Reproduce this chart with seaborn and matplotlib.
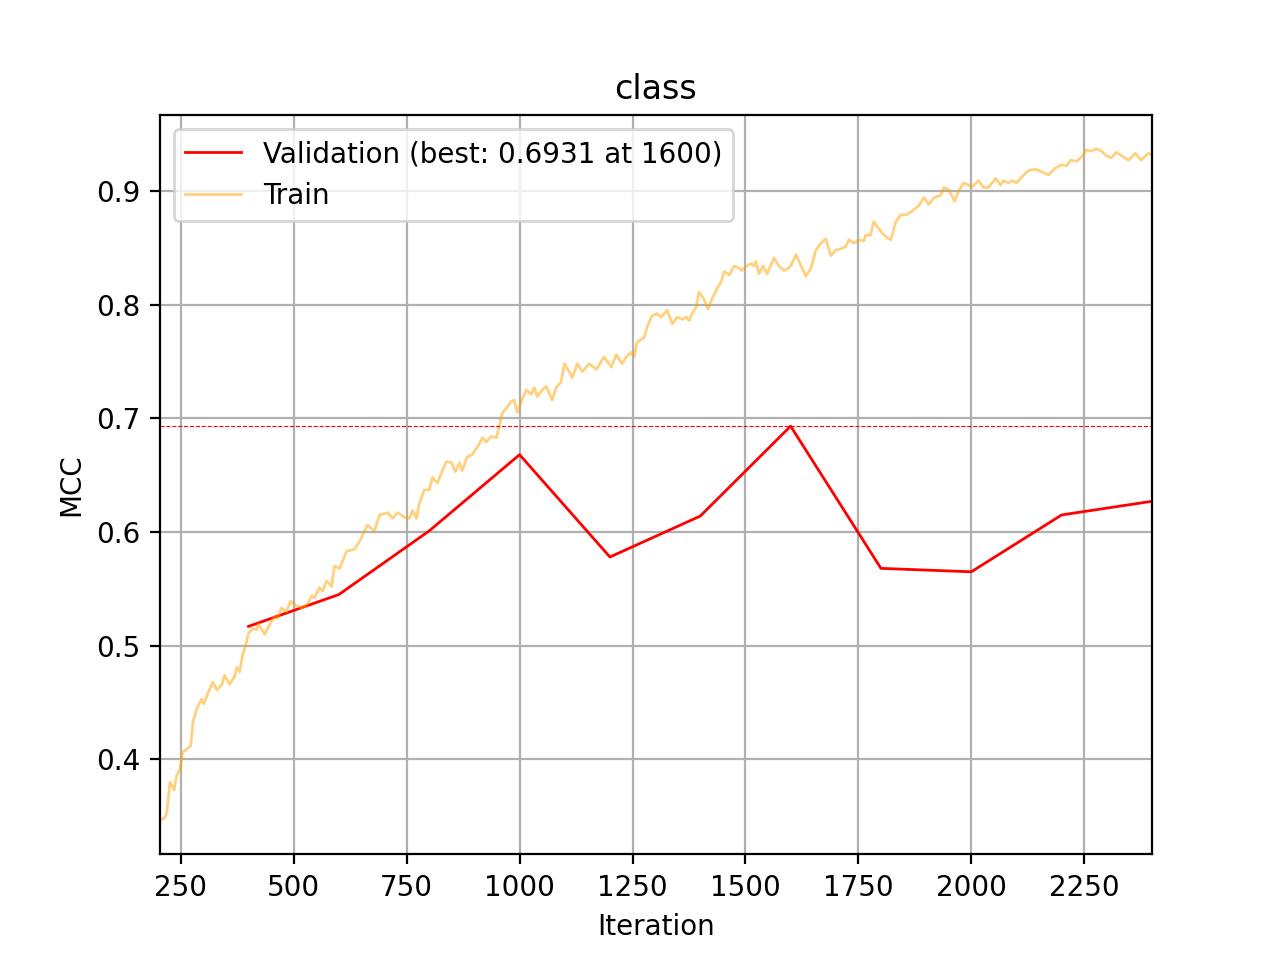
import matplotlib
matplotlib.use("Agg")
import matplotlib.pyplot as plt
import seaborn as sns

# --- validation MCC (evaluated every 200 iterations) ---
val_iter = [400, 600, 800, 1000, 1200, 1400, 1600, 1800, 2000, 2200, 2400]
val_mcc = [0.517, 0.545, 0.601, 0.668, 0.578, 0.614, 0.6931, 0.568, 0.565, 0.615, 0.627]

# --- train MCC ---
train_iter = [
    204, 215, 219, 226, 235, 241, 248, 254, 263, 272, 277, 285, 296, 301, 310,
    321, 330, 341, 347, 358, 369, 374, 380, 387, 394, 400, 409, 418, 422, 436,
    447, 458, 464, 473, 484, 493, 506, 520, 531, 540, 546, 557, 564, 573, 584,
    590, 602, 617, 635, 646, 663, 679, 690, 708, 719, 730, 734, 745, 756, 763,
    772, 778, 789, 800, 807, 818, 827, 838, 849, 858, 867, 873, 884, 895, 907,
    918, 926, 937, 949, 955, 962, 973, 982, 988, 995, 1004, 1015, 1026, 1033, 1039,
    1050, 1059, 1072, 1081, 1092, 1099, 1110, 1117, 1128, 1139, 1154, 1170, 1187, 1203, 1214,
    1227, 1236, 1247, 1254, 1260, 1276, 1282, 1293, 1304, 1313, 1327, 1338, 1349, 1360, 1369,
    1375, 1382, 1391, 1397, 1408, 1417, 1426, 1437, 1446, 1453, 1464, 1475, 1486, 1492, 1503,
    1512, 1519, 1523, 1530, 1539, 1548, 1563, 1574, 1585, 1596, 1603, 1612, 1623, 1634, 1645,
    1656, 1667, 1678, 1689, 1700, 1711, 1722, 1729, 1740, 1751, 1762, 1766, 1777, 1784, 1795,
    1802, 1813, 1822, 1833, 1844, 1857, 1868, 1884, 1895, 1906, 1917, 1932, 1939, 1950, 1963,
    1972, 1983, 1994, 2001, 2016, 2027, 2038, 2054, 2065, 2071, 2082, 2091, 2100, 2111, 2127,
    2142, 2155, 2171, 2186, 2200, 2211, 2220, 2233, 2244, 2255, 2266, 2277, 2288, 2299, 2310,
    2321, 2332, 2348, 2363, 2376, 2392, 2400,
]
train_mcc = [
    0.346, 0.349, 0.353, 0.380, 0.373, 0.386, 0.391, 0.406, 0.409, 0.412, 0.433, 0.444, 0.453, 0.449, 0.458,
    0.468, 0.461, 0.466, 0.474, 0.466, 0.473, 0.481, 0.477, 0.492, 0.501, 0.511, 0.515, 0.514, 0.519, 0.510,
    0.519, 0.526, 0.524, 0.533, 0.530, 0.539, 0.535, 0.533, 0.537, 0.544, 0.542, 0.551, 0.548, 0.557, 0.552,
    0.570, 0.568, 0.583, 0.585, 0.592, 0.606, 0.601, 0.615, 0.617, 0.612, 0.617, 0.616, 0.613, 0.612, 0.619,
    0.612, 0.625, 0.637, 0.637, 0.648, 0.643, 0.652, 0.662, 0.661, 0.653, 0.661, 0.654, 0.666, 0.668, 0.675,
    0.683, 0.679, 0.684, 0.683, 0.693, 0.705, 0.710, 0.715, 0.716, 0.705, 0.715, 0.725, 0.721, 0.727, 0.719,
    0.725, 0.728, 0.716, 0.727, 0.732, 0.748, 0.741, 0.736, 0.748, 0.741, 0.748, 0.743, 0.754, 0.745, 0.756,
    0.748, 0.754, 0.758, 0.754, 0.767, 0.771, 0.780, 0.790, 0.792, 0.789, 0.795, 0.783, 0.789, 0.787, 0.789,
    0.786, 0.792, 0.798, 0.811, 0.805, 0.796, 0.805, 0.814, 0.820, 0.829, 0.826, 0.834, 0.832, 0.830, 0.834,
    0.836, 0.834, 0.838, 0.827, 0.834, 0.827, 0.841, 0.834, 0.830, 0.832, 0.836, 0.844, 0.834, 0.825, 0.832,
    0.848, 0.854, 0.858, 0.843, 0.848, 0.849, 0.851, 0.857, 0.854, 0.857, 0.856, 0.861, 0.861, 0.873, 0.867,
    0.863, 0.859, 0.857, 0.873, 0.879, 0.879, 0.882, 0.887, 0.894, 0.888, 0.894, 0.896, 0.903, 0.901, 0.891,
    0.900, 0.907, 0.905, 0.903, 0.909, 0.903, 0.903, 0.911, 0.905, 0.909, 0.907, 0.909, 0.907, 0.912, 0.918,
    0.919, 0.917, 0.914, 0.920, 0.923, 0.922, 0.927, 0.926, 0.930, 0.936, 0.935, 0.937, 0.935, 0.931, 0.929,
    0.934, 0.931, 0.927, 0.933, 0.927, 0.933, 0.932,
]

best_idx = val_mcc.index(max(val_mcc))
best_val = val_mcc[best_idx]
best_iter = val_iter[best_idx]

fig, ax = plt.subplots(figsize=(6.4, 4.8), dpi=200)

sns.lineplot(x=val_iter, y=val_mcc, color="red", linewidth=1,
             label=f"Validation (best: {best_val:.4f} at {best_iter})", ax=ax)
sns.lineplot(x=train_iter, y=train_mcc, color="orange", alpha=0.5, linewidth=1,
             label="Train", ax=ax)
ax.axhline(best_val, color="red", linestyle="--", linewidth=0.4)

ax.set_xlim(min(train_iter), max(train_iter))
ax.set_title("class")
ax.set_xlabel("Iteration")
ax.set_ylabel("MCC")
ax.grid(True)
ax.legend(loc="upper left")

plt.savefig("out.png")
plt.close(fig)
